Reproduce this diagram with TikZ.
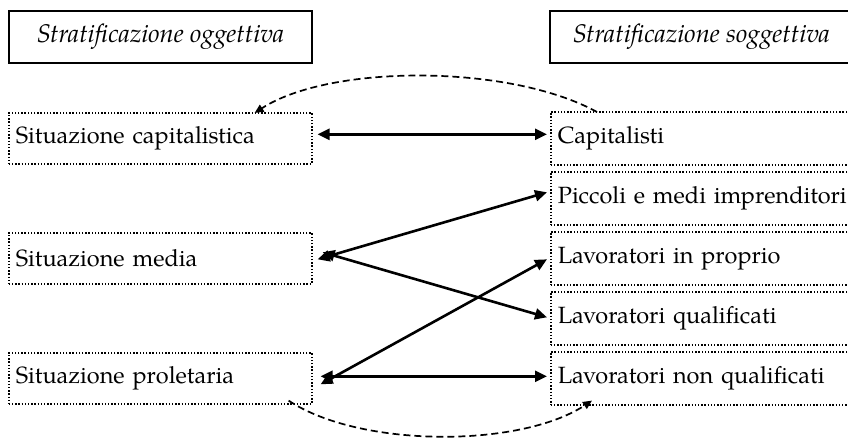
\documentclass[tikz,border=0pt]{standalone}
\usepackage{fontspec}
\setmainfont{TeX Gyre Pagella}
\usetikzlibrary{arrows.meta}
\begin{document}
\begin{tikzpicture}[x=1pt,y=-1pt,
  every node/.style={font=\fontsize{23.5}{28}\selectfont},
  titlebox/.style={draw, line width=1.9pt, minimum width=303pt, minimum height=52pt, inner sep=0pt, anchor=north west, font=\fontsize{25.5}{30}\selectfont\itshape},
  dotbox/.style={draw, line width=1.6pt, dash pattern=on 1.4pt off 1.8pt, minimum height=51pt, inner xsep=7pt, inner ysep=0pt, anchor=north west, align=left},
  leftbox/.style={dotbox, text width=289pt},
  rightbox/.style={dotbox, text width=306pt, minimum height=53pt},
  dbl/.style={{Triangle[length=12pt,width=11pt]}-{Triangle[length=12pt,width=11pt]}, line width=2.6pt},
  dasharc/.style={line width=1.7pt, dash pattern=on 7pt off 4pt, -{Triangle[length=9pt,width=8pt]}}
]
\useasboundingbox (0,0) rectangle (848,439);

\node[titlebox] (tog) at (8,10) {Stratificazione oggettiva};
\node[titlebox] (tsog) at (549,10) {Stratificazione soggettiva};

\node[leftbox] (cap) at (8,112) {Situazione capitalistica};
\node[leftbox] (med) at (8,232) {Situazione media};
\node[leftbox] (pro) at (8,352) {Situazione proletaria};

\node[rightbox] (capi) at (550,111) {Capitalisti};
\node[rightbox] (pic) at (550,171) {Piccoli e medi imprenditori};
\node[rightbox] (inp) at (550,231) {Lavoratori in proprio};
\node[rightbox] (qua) at (550,291) {Lavoratori qualificati};
\node[rightbox] (nqu) at (550,351) {Lavoratori non qualificati};

\draw[dbl] ([xshift=5pt,yshift=4pt]cap.east) -- ([xshift=-3pt,yshift=4pt]capi.west);
\draw[dbl] ([xshift=5pt,yshift=-1pt]med.east) -- ([xshift=-3pt,yshift=6pt]pic.west);
\draw[dbl] ([xshift=10pt,yshift=6pt]med.east) -- ([xshift=-3pt,yshift=1pt]qua.west);
\draw[dbl] ([xshift=8pt,yshift=-6pt]pro.east) -- ([xshift=-3pt,yshift=-1pt]inp.west);
\draw[dbl] ([xshift=8pt,yshift=2pt]pro.east) -- ([xshift=-3pt,yshift=2pt]nqu.west);

\draw[dasharc] ([xshift=47pt,yshift=-1pt]capi.north west) .. controls (510,64) and (330,64) .. ([xshift=-58pt,yshift=-1pt]cap.north east);
\draw[dasharc] ([xshift=-24pt,yshift=4pt]pro.south east) .. controls (360,448) and (520,448) .. ([xshift=42pt,yshift=5pt]nqu.south west);
\end{tikzpicture}
\end{document}
